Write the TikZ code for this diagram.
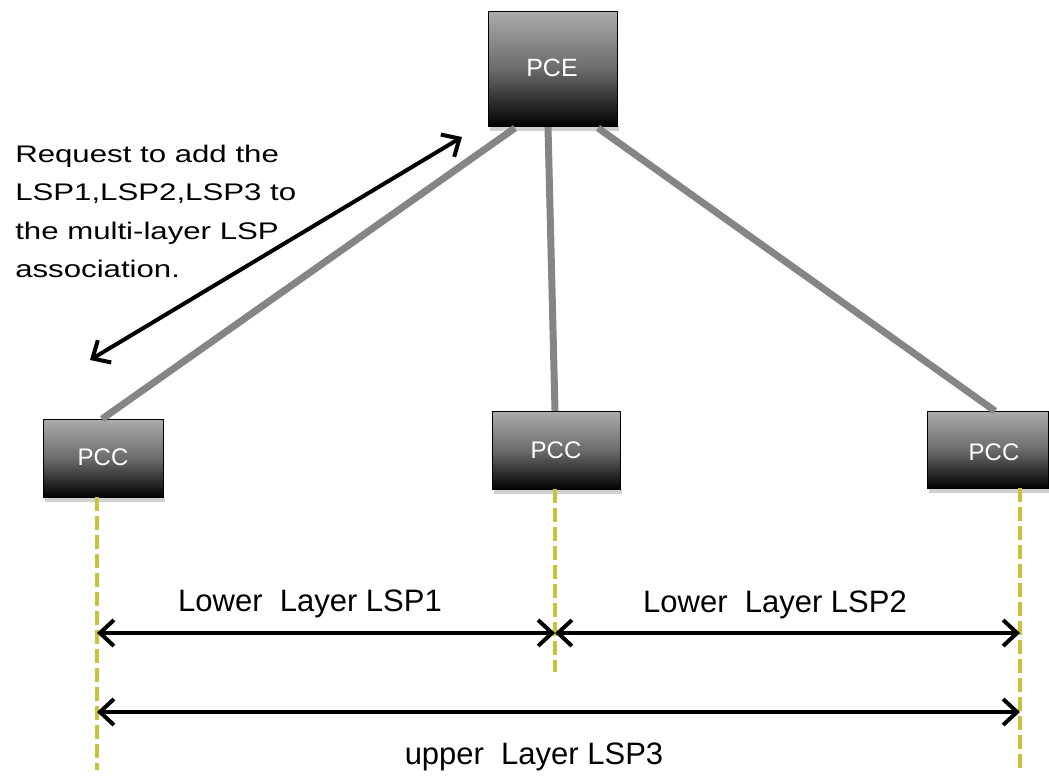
\documentclass[tikz,border=0pt]{standalone}
\usepackage{fontspec}
\setmainfont{Liberation Sans}
\usetikzlibrary{arrows.meta}
\begin{document}
\begin{tikzpicture}[x=1pt,y=-1pt,
  box/.style={draw=black,line width=0.8pt,top color=black!33,bottom color=black,middle color=black!58,
     inner sep=0pt,anchor=north west},
  boxtext/.style={text=white,inner sep=0pt,anchor=base},
  shadowbar/.style={fill=black!18,draw=none},
  link/.style={draw=black!48,line width=7pt},
  guide/.style={draw=yellow!75!black!95,line width=4pt,dash pattern=on 14pt off 5pt},
  dim/.style={draw=black,line width=4pt,{Straight Barb[length=14pt,width=26pt,line width=4pt]}-{Straight Barb[length=14pt,width=26pt,line width=4pt]}},
  lbl/.style={font=\fontsize{31}{38}\selectfont,inner sep=0pt,anchor=base}]
\useasboundingbox (0,0) rectangle (1049,776);
% shadows under boxes
\fill[shadowbar] (490,126) rectangle (619,131);
\fill[shadowbar] (45,497) rectangle (165,502);
\fill[shadowbar] (494,489) rectangle (622,494);
\fill[shadowbar] (929,488) rectangle (1049,493);
% boxes
\node[box,minimum width=129pt,minimum height=115pt] (pce) at (488,11) {};
\node[boxtext,font=\fontsize{25}{25}\selectfont] (pcet) at (552,77) {PCE};
\node[box,minimum width=120pt,minimum height=78pt] (pcc1) at (43,419) {};
\node[boxtext,font=\fontsize{24}{24}\selectfont] (pcc1t) at (103,465) {PCC};
\node[box,minimum width=128pt,minimum height=78pt] (pcc2) at (492,411) {};
\node[boxtext,font=\fontsize{24}{24}\selectfont] (pcc2t) at (556,458) {PCC};
\node[box,minimum width=121pt,minimum height=77pt] (pcc3) at (927,411) {};
\node[boxtext,font=\fontsize{24}{24}\selectfont] (pcc3t) at (994,460) {PCC};
% links
\coordinate (a1) at (515,128);
\coordinate (b1) at (102,419);
\coordinate (a2) at (548,127);
\coordinate (b2) at (555,411);
\coordinate (a3) at (598,128);
\coordinate (b3) at (995,411);
\draw[link] (a1) -- (b1);
\draw[link] (a2) -- (b2);
\draw[link] (a3) -- (b3);
% request arrow
\coordinate (r1) at (90,360);
\coordinate (r2) at (462,137);
\draw[dim] (r1) -- (r2);
\node[inner sep=0pt,align=left,anchor=north west,xscale=1.3,transform shape,
      font=\fontsize{24}{38.5}\selectfont] (req) at (15,144.5)
  {Request to add the\\LSP1,LSP2,LSP3 to\\the multi-layer LSP\\association.};
% guides
\coordinate (g1) at (97,770);
\coordinate (g2) at (555,672);
\coordinate (g3) at (1020,770);
\draw[guide] (97,497) -- (g1);
\draw[guide] (555,489) -- (g2);
\draw[guide] (1020,488) -- (g3);
% dimension arrows
\coordinate (d1a) at (97,633);
\coordinate (d1b) at (555,633);
\coordinate (d2b) at (1020,633);
\coordinate (d3a) at (97,712);
\coordinate (d3b) at (1020,712);
\draw[dim] (d1a) -- (d1b);
\draw[dim] (d1b) -- (d2b);
\draw[dim] (d3a) -- (d3b);
\node[lbl] (l1) at (310,611) {Lower\ \ Layer LSP1};
\node[lbl] (l2) at (775,612) {Lower\ \ Layer LSP2};
\node[lbl] (l3) at (534,764) {upper\ \ Layer LSP3};
\end{tikzpicture}
\end{document}
